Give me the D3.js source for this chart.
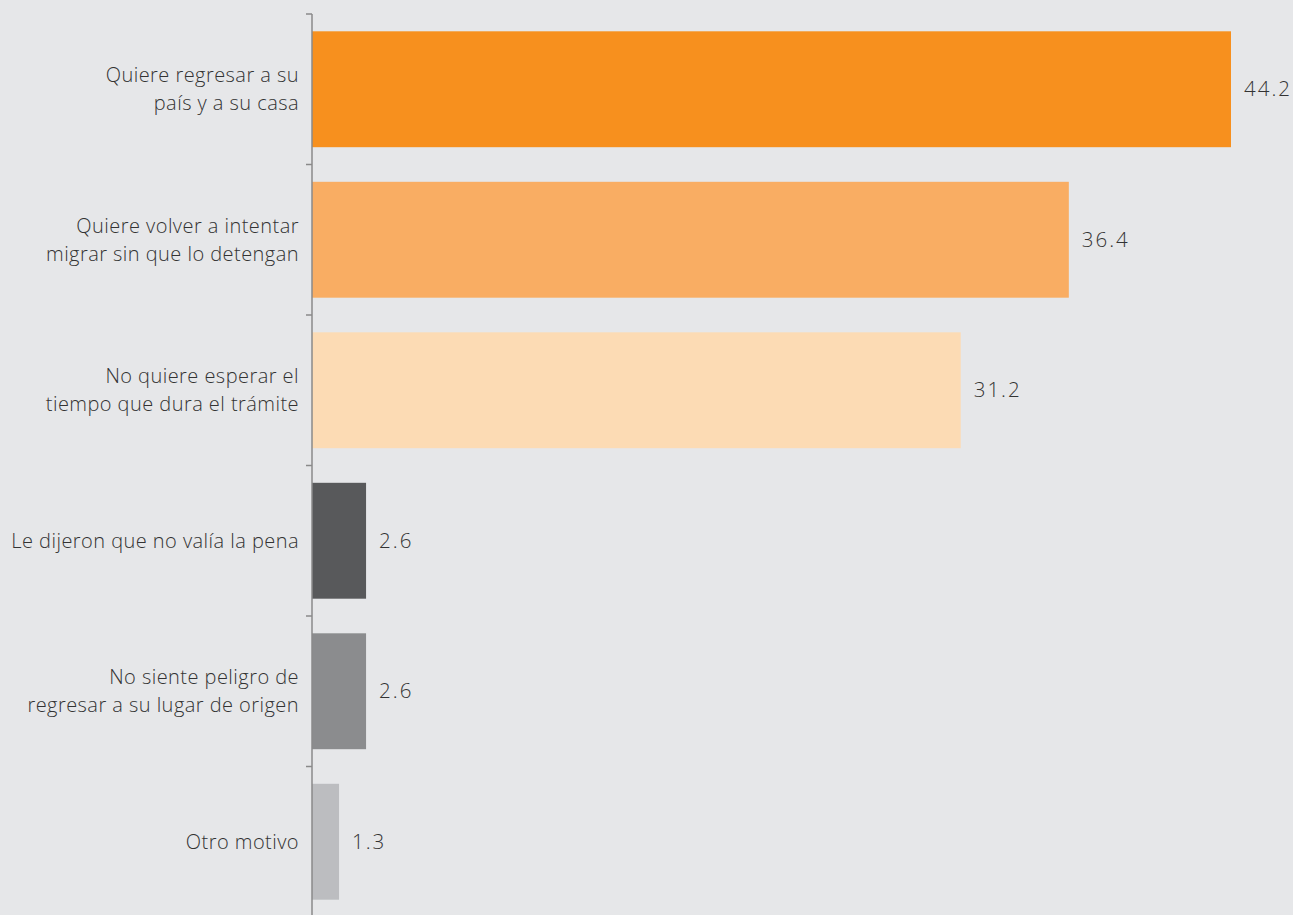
<!DOCTYPE html>
<html><head><meta charset="utf-8">
<script src="https://cdn.jsdelivr.net/npm/d3@7"></script>
<style>html,body{margin:0;padding:0;background:#e6e7e9;overflow:hidden}</style>
</head><body>
<svg id="chart" width="1293" height="915"></svg>
<script>
const categories = [
  ["Quiere regresar a su", "país y a su casa"],
  ["Quiere volver a intentar", "migrar sin que lo detengan"],
  ["No quiere esperar el", "tiempo que dura el trámite"],
  ["Le dijeron que no valía la pena"],
  ["No siente peligro de", "regresar a su lugar de origen"],
  ["Otro motivo"]
];
const values = [44.2, 36.4, 31.2, 2.6, 2.6, 1.3];
const colors = ["#f7901e", "#f9ad63", "#fcdbb4", "#58595b", "#8b8c8e", "#bcbdc0"];

const svg = d3.select("#chart");
const W = 1293, H = 915;
svg.append("rect").attr("width", W).attr("height", H).attr("fill", "#e6e7e9");

const x0 = 312;
const x = d3.scaleLinear().domain([0, 44.2]).range([x0, 1231]);
const idx = d3.range(categories.length);
const y = d3.scaleBand().domain(idx).range([14, 14 + 150.5 * 6]).paddingInner(0.23).paddingOuter(0.115);

const font = "'Open Sans', sans-serif";

svg.selectAll("rect.bar").data(idx).join("rect")
  .attr("class", "bar")
  .attr("x", x0)
  .attr("y", i => y(i))
  .attr("width", i => x(values[i]) - x0)
  .attr("height", y.bandwidth())
  .attr("fill", i => colors[i]);

// axis line and ticks at band boundaries
const step = y.step();
const g = svg.append("g");
g.append("line").attr("x1", x0).attr("x2", x0).attr("y1", 14).attr("y2", H)
  .attr("stroke", "#8a8a8a").attr("stroke-width", 1.5);
d3.range(7).forEach(k => {
  const yy = 14 + k * step;
  g.append("line").attr("x1", x0 - 6).attr("x2", x0).attr("y1", yy).attr("y2", yy)
    .attr("stroke", "#8a8a8a").attr("stroke-width", 1.5);
});

// category labels
idx.forEach(i => {
  const lines = categories[i];
  const cy = y(i) + y.bandwidth() / 2;
  const lh = 28;
  const t = svg.append("text")
    .attr("text-anchor", "end")
    .attr("font-family", font).attr("font-size", 20).attr("font-weight", 300)
    .attr("letter-spacing", "0.45px")
    .attr("fill", "#333");
  lines.forEach((ln, j) => {
    t.append("tspan").attr("x", x0 - 13)
      .attr("y", cy + (j - (lines.length - 1) / 2) * lh)
      .attr("dy", "0.35em").text(ln);
  });
});

// value labels
svg.selectAll("text.val").data(idx).join("text")
  .attr("class", "val")
  .attr("x", i => x(values[i]) + 13)
  .attr("y", i => y(i) + y.bandwidth() / 2)
  .attr("dy", "0.35em")
  .attr("font-family", font).attr("font-size", 20.5).attr("font-weight", 300)
  .attr("letter-spacing", "2px")
  .attr("fill", "#333")
  .text(i => values[i].toFixed(1));
</script>
</body></html>
